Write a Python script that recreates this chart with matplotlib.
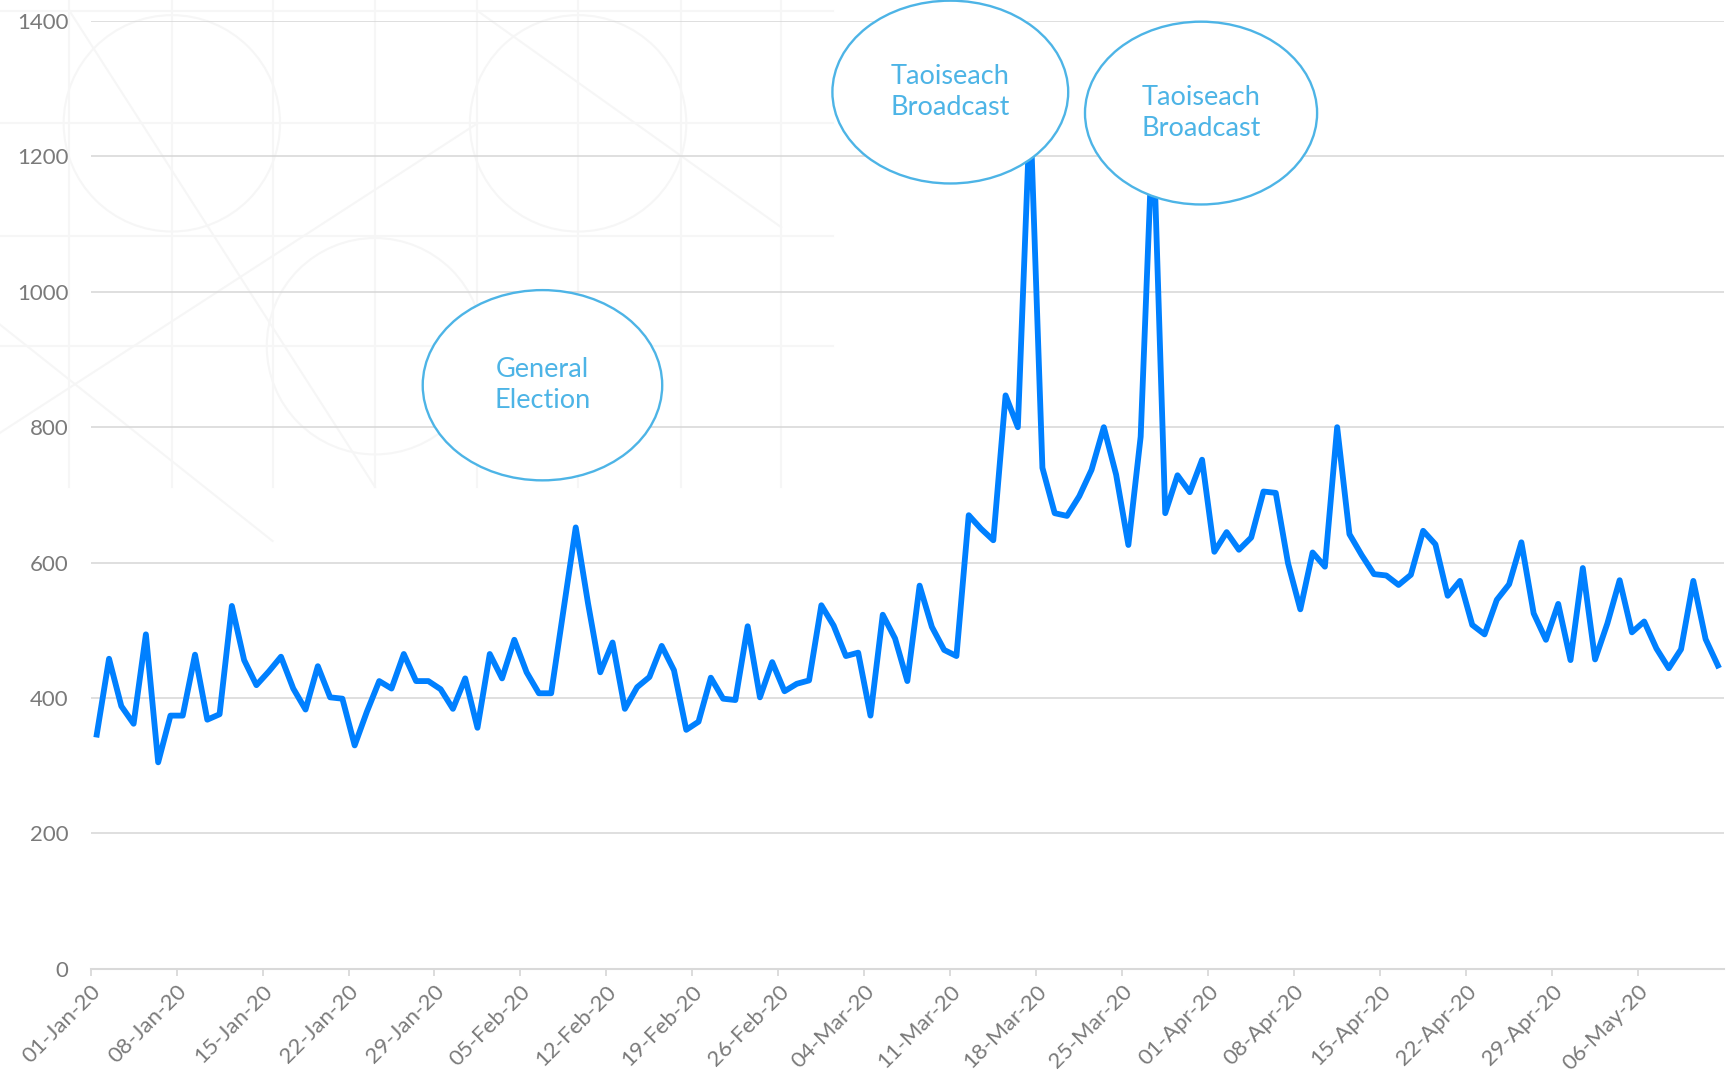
"""Daily views, 01-Jan-20 to 12-May-20, with the three annotated spikes."""

import matplotlib
matplotlib.use("Agg")
import matplotlib.dates as mdates
import matplotlib.pyplot as plt
import pandas as pd
from matplotlib.patches import Ellipse

plt.rcParams["font.family"] = ["Lato", "DejaVu Sans"]

START = "2020-01-01"
VIEWS = [
    346, 458, 388, 362, 494, 305, 374, 374, 464, 368,
    376, 536, 456, 419, 439, 461, 414, 383, 447, 401,
    399, 330, 380, 425, 414, 465, 425, 425, 413, 384,
    429, 356, 465, 429, 486, 438, 407, 407, 530, 652,
    540, 438, 482, 384, 416, 431, 477, 441, 353, 365,
    430, 399, 397, 506, 401, 453, 410, 421, 426, 537,
    507, 462, 467, 374, 523, 488, 425, 566, 505, 471,
    462, 670, 650, 633, 847, 800, 1270, 740, 673, 669,
    698, 737, 800, 730, 626, 786, 1250, 673, 729, 704,
    752, 616, 645, 619, 637, 705, 703, 599, 531, 615,
    594, 800, 642, 611, 583, 581, 567, 582, 647, 627,
    551, 573, 508, 494, 545, 568, 630, 525, 486, 539,
    456, 592, 457, 510, 574, 497, 513, 473, 444, 472,
    573, 487, 448,
]
Y_TICKS = [0, 200, 400, 600, 800, 1000, 1200, 1400]
EVENT_LABELS = ["General\nElection", "Taoiseach\nBroadcast", "Taoiseach\nBroadcast"]
# ellipse centre (date, value), width in days, height in views
EVENT_SHAPES = [
    ("2020-02-06 19:00", 862, 19.5, 281),
    ("2020-03-11 00:00", 1295, 19.2, 270),
    ("2020-03-31 10:00", 1264, 18.9, 270),
]

LINE_BLUE = "#0080ff"
NOTE_BLUE = "#4db4e6"
GRID_GREY = "#d9d9d9"
TEXT_GREY = "#7a7a7a"
DECOR_GREY = "#f6f6f6"

FIG_W, FIG_H = 17.36, 10.82
fig = plt.figure(figsize=(FIG_W, FIG_H), dpi=100)

# faint decorative pattern in the upper-left background (figure fractions)
for xv in [0.040, 0.099, 0.157, 0.216, 0.275, 0.333, 0.392, 0.450]:
    fig.add_artist(plt.Line2D([xv, xv], [0.55, 1.0], color=DECOR_GREY, lw=1.5, zorder=0))
for yv in [0.99, 0.886, 0.782, 0.680]:
    fig.add_artist(plt.Line2D([0.0, 0.48], [yv, yv], color=DECOR_GREY, lw=1.5, zorder=0))
r = 0.10  # circle radius as a fraction of figure height
for cx, cy in [(0.216, 0.680), (0.333, 0.886), (0.099, 0.886)]:
    fig.add_artist(Ellipse((cx, cy), 2 * r * FIG_H / FIG_W, 2 * r, transform=fig.transFigure,
                           fill=False, ec=DECOR_GREY, lw=1.5, zorder=0))
for x0, y0, x1, y1 in [(0.0, 0.60, 0.275, 0.886), (0.040, 0.99, 0.216, 0.55),
                       (0.275, 0.99, 0.45, 0.79), (0.0, 0.70, 0.157, 0.50)]:
    fig.add_artist(plt.Line2D([x0, x1], [y0, y1], color=DECOR_GREY, lw=1.5, zorder=0))

ax = fig.add_axes([0.0522, 0.1046, 0.9409, 0.876])
ax.patch.set_alpha(0)

dates = pd.date_range(START, periods=len(VIEWS), freq="D")
ax.plot(dates + pd.Timedelta(hours=12), VIEWS, color=LINE_BLUE, lw=4.2,
        solid_joinstyle="round", zorder=2)

for label, (centre, yc, w, h) in zip(EVENT_LABELS, EVENT_SHAPES):
    xc = mdates.date2num(pd.Timestamp(centre))
    ax.add_patch(Ellipse((xc, yc), w, h, facecolor="white", edgecolor=NOTE_BLUE,
                         lw=1.7, zorder=3, clip_on=False))
    ax.text(xc, yc, label, ha="center", va="center", color=NOTE_BLUE,
            fontsize=19.5, linespacing=1.3, zorder=4)

ax.set_xlim(pd.Timestamp(START), dates[-1] + pd.Timedelta(days=1))
ax.set_ylim(0, 1400)
ax.set_yticks(Y_TICKS)
ax.set_xticks(pd.date_range(START, dates[-1], freq="7D"))
ax.xaxis.set_major_formatter(mdates.DateFormatter("%d-%b-%y"))

ax.grid(axis="y", color=GRID_GREY, lw=1.2, zorder=1)
ax.set_axisbelow(True)
for side in ["left", "right", "top"]:
    ax.spines[side].set_visible(False)
ax.spines["bottom"].set_color(GRID_GREY)
ax.spines["bottom"].set_linewidth(1.5)

ax.tick_params(axis="y", length=0, pad=16, labelsize=16, labelcolor=TEXT_GREY)
ax.tick_params(axis="x", length=5, width=1.3, color=GRID_GREY, pad=4,
               labelsize=16, labelcolor=TEXT_GREY)
for lbl in ax.get_xticklabels():
    lbl.set_rotation(45)
    lbl.set_ha("right")
    lbl.set_va("top")
    lbl.set_rotation_mode("anchor")

fig.savefig("out.png", dpi=100)
